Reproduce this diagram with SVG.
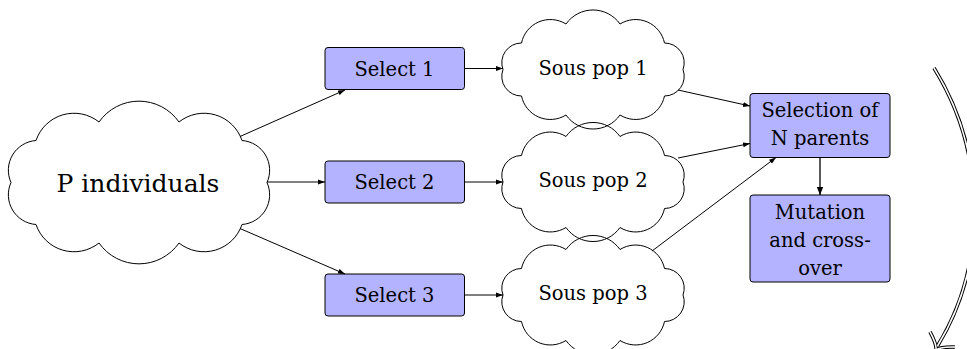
<svg xmlns="http://www.w3.org/2000/svg" xmlns:xlink="http://www.w3.org/1999/xlink" width="967" height="349" viewBox="0 0 967 349">
<style>
.cloud{fill:none;stroke:#000;stroke-width:1}
.box{fill:#b3b3ff;stroke:#000;stroke-width:1}
.edge{fill:none;stroke:#000;stroke-width:1;marker-end:url(#ah)}
.edgeB{fill:none;stroke:#000;stroke-width:1.3;marker-end:url(#ahB)}
.dblO{fill:none;stroke:#000;stroke-width:3.6}
.dblI{fill:none;stroke:#fff;stroke-width:1.6}
text{font-family:"DejaVu Serif","Liberation Serif",serif;font-size:19.5px;text-anchor:middle;fill:#000}
.big{font-size:25px}
</style>
<defs>
<marker id="ah" markerUnits="userSpaceOnUse" markerWidth="7" markerHeight="6" refX="7" refY="3" orient="auto">
<path d="M0,0.5 L7,3 L0,5.5 Z" fill="#000"/>
</marker>
<marker id="ahB" markerUnits="userSpaceOnUse" markerWidth="8" markerHeight="8" refX="8" refY="4" orient="auto">
<path d="M0,0.8 L8,4 L0,7.2 Z" fill="#000"/>
</marker>
<path id="cloudS" class="cloud" d="M-90,0 A19.7,19.7 0 0 1 -71.5,-26.5 A29.5,29.5 0 0 1 -27,-45.5 A33,33 0 0 1 27,-45.5 A29.5,29.5 0 0 1 71.5,-26.5 A19.7,19.7 0 0 1 90,0 A19.7,19.7 0 0 1 71.5,26.5 A29.5,29.5 0 0 1 27,45.5 A33,33 0 0 1 -27,45.5 A29.5,29.5 0 0 1 -71.5,26.5 A19.7,19.7 0 0 1 -90,0 Z"/>
</defs>
<rect width="967" height="349" fill="#fff"/>

<g id="n_P">
<path class="cloud" transform="translate(139,182.5)" d="M-128,0 A29.8,29.8 0 0 1 -103,-42 A40.1,40.1 0 0 1 -40,-60.5 A48.8,48.8 0 0 1 40,-60.5 A40.1,40.1 0 0 1 103,-42 A29.8,29.8 0 0 1 128,0 A29.8,29.8 0 0 1 103,42 A40.1,40.1 0 0 1 40,60.5 A48.8,48.8 0 0 1 -40,60.5 A40.1,40.1 0 0 1 -103,42 A29.8,29.8 0 0 1 -128,0 Z"/>
<text class="big" x="138" y="192">P individuals</text>
</g>

<g id="n_sel1">
<rect class="box" x="325" y="47.5" width="139.5" height="42" rx="3"/>
<text x="394.5" y="75.5">Select 1</text>
</g>
<g id="n_sel2">
<rect class="box" x="325" y="161" width="139.5" height="42" rx="3"/>
<text x="394.5" y="189">Select 2</text>
</g>
<g id="n_sel3">
<rect class="box" x="325" y="274" width="139.5" height="42" rx="3"/>
<text x="394.5" y="302">Select 3</text>
</g>

<g id="n_sp1">
<use xlink:href="#cloudS" href="#cloudS" transform="translate(593,69.5)"/>
<text x="593" y="74.5">Sous pop 1</text>
</g>
<g id="n_sp2">
<use xlink:href="#cloudS" href="#cloudS" transform="translate(593,182)"/>
<text x="593" y="187">Sous pop 2</text>
</g>
<g id="n_sp3">
<use xlink:href="#cloudS" href="#cloudS" transform="translate(593,295)"/>
<text x="593" y="300">Sous pop 3</text>
</g>

<g id="n_selN">
<rect class="box" x="750" y="93.5" width="140" height="64" rx="3"/>
<text x="820" y="116.5">Selection of</text>
<text x="820" y="145">N parents</text>
</g>

<g id="n_mut">
<rect class="box" x="750" y="195" width="140" height="87" rx="3"/>
<text x="820" y="218.5">Mutation</text>
<text x="820" y="247">and cross-</text>
<text x="820" y="275">over</text>
</g>

<g id="connectors">
<path class="edge" d="M240,136.5 L345,90"/>
<path class="edge" d="M267,182 L325,182"/>
<path class="edge" d="M240,228.5 L345,274"/>
<path class="edge" d="M464.5,68.5 L503,68.5"/>
<path class="edge" d="M464.5,182 L503,182"/>
<path class="edge" d="M464.5,295 L503,295"/>
<path class="edge" d="M678,90 L750,106"/>
<path class="edge" d="M678,158 L750,143.5"/>
<path class="edge" d="M652,251 L776,157.5"/>
<path class="edgeB" d="M820,157.5 L820,195"/>
<g id="loop">
<path class="dblO" d="M934,68 C985,150 989.5,261 937.5,346"/>
<path class="dblO" d="M930,331.9 Q936.9,344.7 936,350 Q940.3,346.8 954.8,347.1"/>
<path class="dblI" d="M934,68 C985,150 989.5,261 937.5,346"/>
<path class="dblI" d="M930,331.9 Q936.9,344.7 936,350 Q940.3,346.8 954.8,347.1"/>
</g>
</g>
</svg>
